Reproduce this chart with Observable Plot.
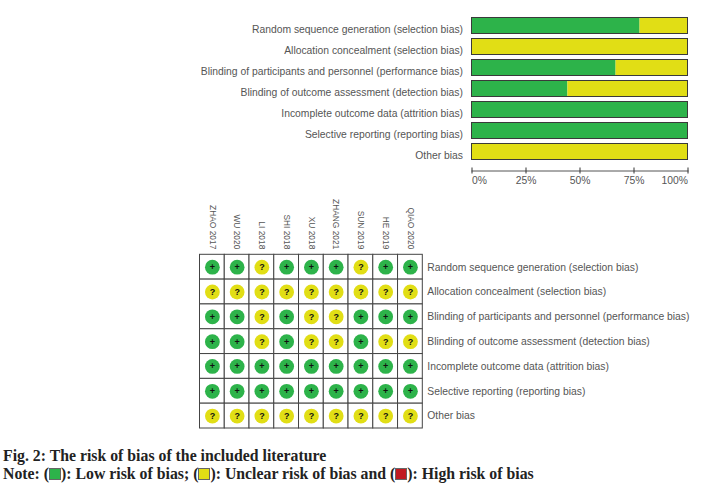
<!DOCTYPE html>
<html><head><meta charset="utf-8">
<script src="https://cdn.jsdelivr.net/npm/d3@7"></script>
<script src="https://cdn.jsdelivr.net/npm/@observablehq/plot@0.6"></script>
<style>
html,body{margin:0;padding:0;background:#fff}
#page{position:relative;width:701px;height:487px;overflow:hidden}
#top,#matrix{position:absolute;left:0}
#top{top:0}#matrix{top:195px}
svg{display:block}
#cap{position:absolute;left:3px;top:447px;font:bold 15.8px/18px "Liberation Serif",serif;color:#222;white-space:nowrap}
.sw{display:inline-block;width:10px;height:10px;border:1px solid #666;vertical-align:-1px}
</style></head><body>
<div id="page"><div id="top"></div><div id="matrix"></div>
<div id="cap"><div>Fig. 2: The risk of bias of the included literature</div>
<div>Note: (<span class="sw" style="background:#2db34a"></span>): Low risk of bias; (<span class="sw" style="background:#e1de15"></span>): Unclear risk of bias and (<span class="sw" style="background:#c01c22"></span>): High risk of bias</div></div></div>
<script>
const domains=["Random sequence generation (selection bias)","Allocation concealment (selection bias)","Blinding of participants and personnel (performance bias)","Blinding of outcome assessment (detection bias)","Incomplete outcome data (attrition bias)","Selective reporting (reporting bias)","Other bias"];
const lowRisk=[77.8,0,66.7,44.4,100,100,0];
const unclearRisk=[22.2,100,33.3,55.6,0,0,100];
const studies=["ZHAO 2017","WU 2020","LI 2018","SHI 2018","XU 2018","ZHANG 2021","SUN 2019","HE 2019","QIAO 2020"];
const judgments=[
["+","+","?","+","+","+","?","+","+"],
["?","?","?","?","?","?","?","?","?"],
["+","+","?","+","?","?","+","+","+"],
["+","+","?","+","?","?","+","?","?"],
["+","+","+","+","+","+","+","+","+"],
["+","+","+","+","+","+","+","+","+"],
["?","?","?","?","?","?","?","?","?"]];
const xTicks=[0,25,50,75,100];
const GREEN="#2db34a",YELLOW="#e1de15",INK="#555";
const FONT='"Liberation Sans",Arial,sans-serif';

const segs=domains.flatMap((d,i)=>[{d,k:"low",v:lowRisk[i]},{d,k:"unclear",v:unclearRisk[i]}]);
const topPlot=Plot.plot({width:701,height:195,marginLeft:471.5,marginRight:13.5,marginTop:15,marginBottom:27.5,
 style:{fontFamily:FONT,fontSize:"10.35px",color:INK,background:"transparent"},
 x:{domain:[0,100],axis:null},
 y:{domain:domains,range:[15,162],paddingInner:0.238,paddingOuter:0.119,round:false,label:null},
 color:{domain:["low","unclear"],range:[GREEN,YELLOW]},
 marks:[
  Plot.barX(segs,{x:"v",y:"d",fill:"k",order:["low","unclear"],inset:0}),
  Plot.barX(domains,{x1:0,x2:100,y:d=>d,fill:"none",stroke:"#3a3a3a",strokeWidth:1}),
  Plot.axisY({tickSize:0,tickPadding:9,label:null,fill:INK,dy:3.5}),
  Plot.frame({anchor:"bottom",dy:3,stroke:INK}),
  Plot.axisX({ticks:xTicks,tickSize:6,stroke:"#333",text:null,label:null}),
  Plot.text(xTicks.filter(t=>t==0),{x:d=>d,text:d=>d+"%",frameAnchor:"bottom",dy:16,textAnchor:"start",fill:INK}),
  Plot.text(xTicks.filter(t=>t>0&&t<100),{x:d=>d,text:d=>d+"%",frameAnchor:"bottom",dy:16,textAnchor:"middle",fill:INK}),
  Plot.text(xTicks.filter(t=>t==100),{x:d=>d,text:d=>d+"%",frameAnchor:"bottom",dy:16,textAnchor:"end",fill:INK})
 ]});
document.getElementById("top").append(topPlot);

const cells=domains.flatMap((d,i)=>studies.map((s,j)=>({d,s,j:judgments[i][j]})));
const matrix=Plot.plot({width:701,height:240,marginLeft:199.5,marginRight:278.7,marginTop:59.3,marginBottom:7,
 style:{fontFamily:FONT,fontSize:"10.35px",color:INK,background:"transparent"},
 x:{domain:studies,padding:0,round:false,axis:null},
 y:{domain:domains,padding:0,round:false,axis:null},
 color:{domain:["+","?"],range:[GREEN,YELLOW]},
 marks:[
  Plot.cell(cells,{x:"s",y:"d",fill:"white",stroke:"#444",strokeWidth:1}),
  Plot.dot(cells,{x:"s",y:"d",r:7.4,fill:"j"}),
  Plot.text(cells,{x:"s",y:"d",text:"j",fill:"#111",fontWeight:"bold",fontSize:9}),
  Plot.axisX({anchor:"top",tickSize:0,tickPadding:5.5,tickRotate:90,label:null,fill:INK,fontSize:8.4}),
  Plot.axisY({anchor:"right",tickSize:0,tickPadding:4.5,label:null,fill:INK})
 ]});
document.getElementById("matrix").append(matrix);
</script></body></html>
